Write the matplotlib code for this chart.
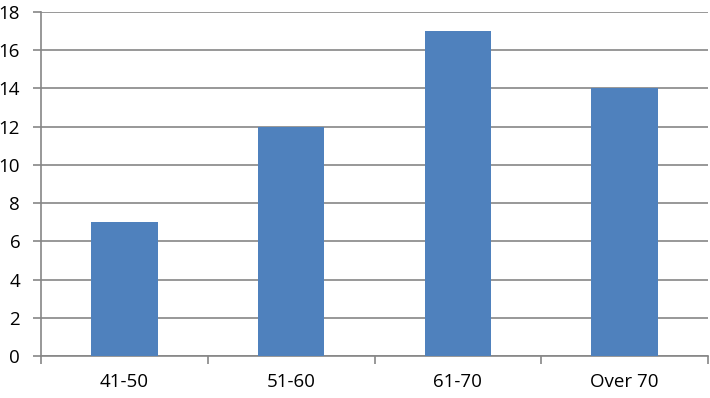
import numpy as np
import matplotlib
matplotlib.use("Agg")
from matplotlib import pyplot as plt

categories = ["41-50", "51-60", "61-70", "Over 70"]
counts = [7, 12, 17, 14]
yticks = [0, 2, 4, 6, 8, 10, 12, 14, 16, 18]

plt.rcParams['font.family'] = ['Open Sans', 'DejaVu Sans']

fig = plt.figure(figsize=(7.10, 3.98), dpi=100)
ax = fig.add_axes([41/710, 42/398, 667/710, 344/398])

x = np.arange(len(categories))
ax.bar(x, counts, width=0.4, color="#4F81BD", zorder=3)

ax.set_xlim(-0.5, len(categories) - 0.5)
ax.set_ylim(0, 18)
ax.set_yticks(yticks)
ax.yaxis.grid(True, color="#868686", linewidth=1.2, zorder=0)

ax.set_xticks(x)
ax.set_xticklabels(categories)
ax.set_xticks(np.arange(len(categories) + 1) - 0.5, minor=True)
ax.tick_params(axis="x", which="major", length=0, pad=12, labelsize=13.5)
ax.tick_params(axis="x", which="minor", length=6, width=1.2, color="#868686")
ax.tick_params(axis="y", length=6, width=1.2, color="#868686", labelsize=13.5, pad=9)

for side in ["top", "right"]:
    ax.spines[side].set_visible(False)
for side in ["left", "bottom"]:
    ax.spines[side].set_color("#868686")
    ax.spines[side].set_linewidth(1.2)

plt.savefig("out.png", dpi=100)
